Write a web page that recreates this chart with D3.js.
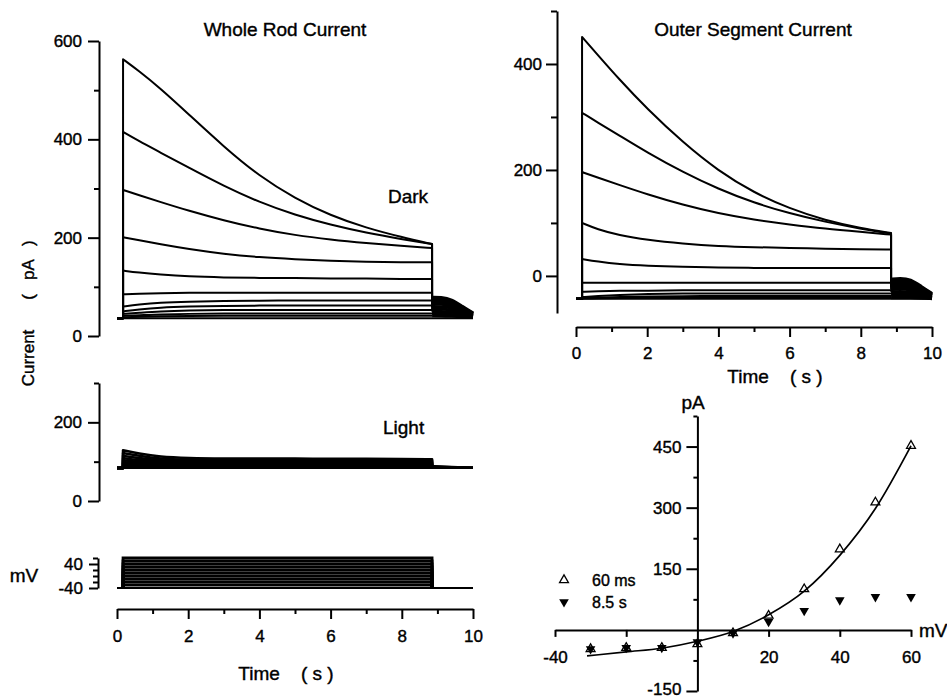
<!DOCTYPE html>
<html>
<head>
<meta charset="utf-8">
<script src="https://cdn.jsdelivr.net/npm/d3@7"></script>
<style>
  body { margin: 0; background: #fff; }
  text { font-family: "Liberation Sans", Arial, sans-serif; fill: #000; stroke: #000; stroke-width: 0.4px; }
  .axis path, .axis line { stroke: #000; stroke-width: 2; }
  .axis text { font-size: 17px; }
</style>
</head>
<body>
<div id="chart"></div>
<script>
// ---- time base of the recorded traces (s) ----
const tOn = 0.17;
const tSample = [0.17, 0.6, 1.2, 2, 3, 4, 5, 6, 7, 8, 8.85];
const tTail = [8.85, 9.1, 9.4, 9.7, 10.0];

// ---- whole rod, dark (pA) ----
const darkBase = 36;
const darkTraces = [
  [563, 540, 505, 452, 385, 325, 280, 245, 220, 201, 187],
  [415, 397, 374, 343, 305, 272, 246, 226, 210, 197, 187],
  [297, 287, 273, 255, 235, 218, 205, 196, 189, 183, 179],
  [201, 195, 187, 177, 167, 160, 156, 153, 151, 150, 150],
  [133, 129, 125, 121, 119, 118, 118, 117, 117, 116, 116],
  [85, 86, 87, 88, 88, 88, 88, 88, 88, 88, 88],
  [60, 64, 68, 70, 71, 72, 72, 72, 72, 72, 72],
  [50, 54, 58, 60, 61, 62, 62, 62, 62, 62, 62],
  [45, 47, 50, 52, 53, 53, 53, 53, 53, 53, 53],
  [41, 42, 44, 45, 46, 46, 46, 46, 46, 46, 46],
  [38, 39, 40, 41, 41, 41, 41, 41, 41, 41, 41]
];
const darkTails = [
  [79, 79, 75, 60, 47],
  [77, 77, 73, 58, 46],
  [75, 75, 71, 57, 46],
  [72, 72, 68, 55, 45],
  [69, 69, 65, 53, 44],
  [65, 65, 62, 51, 43],
  [60, 60, 58, 49, 42],
  [55, 55, 53, 47, 41],
  [50, 50, 49, 45, 40],
  [45, 45, 44, 42, 39],
  [41, 41, 40, 39, 38]
];

// ---- whole rod, light (pA) ----
const lightBase = 84;
const lightTraces = [
  [129, 121, 112, 109, 108, 108, 108, 107, 107, 107, 106],
  [122, 115, 107, 105, 104, 104, 104, 104, 103, 103, 103],
  [115, 109, 103, 101, 100, 100, 100, 100, 100, 99, 99],
  [109, 104, 99, 97, 97, 97, 97, 97, 97, 96, 96],
  [104, 99, 96, 94, 94, 94, 94, 94, 94, 93, 93],
  [99, 95, 93, 92, 91, 91, 91, 91, 91, 91, 91],
  [95, 92, 90, 89, 89, 89, 89, 89, 89, 89, 89],
  [91, 89, 88, 87, 87, 87, 87, 87, 87, 87, 87],
  [88, 87, 86, 86, 86, 86, 86, 86, 86, 86, 86],
  [86, 85, 85, 85, 85, 85, 85, 85, 85, 85, 85]
];
const lightTails = [
  [89, 88, 87, 86, 84],
  [88, 87, 86, 85, 84],
  [87, 86, 86, 85, 84],
  [86, 86, 85, 85, 84],
  [86, 85, 85, 84, 84],
  [85, 85, 84, 84, 84],
  [85, 84, 84, 84, 84],
  [84, 84, 84, 84, 84],
  [84, 84, 84, 84, 84],
  [84, 84, 84, 84, 84]
];

// ---- voltage steps (mV) ----
const holdV = -40;
const stepLevels = [-30, -20, -10, 0, 10, 20, 30, 40, 50, 60];

// ---- outer segment current (pA) ----
const outerBase = -43;
const outerTraces = [
  [451, 418, 372, 315, 252, 198, 157, 127, 105, 90, 81],
  [308, 290, 266, 233, 196, 164, 138, 118, 102, 89, 80],
  [196, 186, 172, 154, 134, 118, 106, 97, 89, 83, 78],
  [100, 88, 77, 68, 61, 56, 54, 53, 51, 50, 50],
  [32, 27, 22, 19, 17, 16, 15, 15, 15, 15, 15],
  [-13, -13, -13, -13, -13, -13, -13, -13, -13, -13, -13],
  [-30, -29, -28, -28, -27, -27, -27, -27, -27, -27, -27],
  [-40, -38, -36, -34, -33, -33, -33, -33, -33, -33, -33],
  [-42, -41, -40, -39, -38, -38, -38, -38, -38, -38, -38],
  [-43, -42, -42, -41, -41, -41, -41, -41, -41, -41, -41]
];
const outerTails = [
  [-6, -4, -6, -20, -33],
  [-10, -8, -10, -22, -34],
  [-14, -12, -14, -24, -35],
  [-18, -16, -18, -26, -36],
  [-22, -20, -22, -28, -37],
  [-26, -24, -26, -31, -38],
  [-30, -29, -30, -34, -40],
  [-34, -33, -34, -37, -41],
  [-38, -37, -38, -39, -42],
  [-41, -41, -41, -42, -43]
];

// ---- I-V relation ----
const ivVolts = [-30, -20, -10, 0, 10, 20, 30, 40, 50, 60];
const iv60ms = [-47, -44, -44, -35, -8, 35, 100, 198, 313, 452];
const iv85s = [-47, -44, -44, -30, -8, 20, 47, 73, 81, 81];
const fitVolts = [-31, -20, -10, 0, 10, 20, 30, 40, 50, 60];
const fitCurrent = [-64, -54, -45, -28, -4, 37, 95, 183, 298, 452];

const width = 947, height = 698;

const svg = d3.select("#chart").append("svg")
  .attr("width", width)
  .attr("height", height);

// scales
const xLeft = d3.scaleLinear().domain([0, 10]).range([117, 473]);
const yDark = d3.scaleLinear().domain([0, 600]).range([336, 41]);
const yLight = d3.scaleLinear().domain([0, 300]).range([501, 383]);
const yVolt = d3.scaleLinear().domain([-40, 60]).range([588, 558]);
const xRight = d3.scaleLinear().domain([0, 10]).range([576, 932]);
const yOuter = d3.scaleLinear().domain([-70, 500]).range([313, 11]);
const xIV = d3.scaleLinear().domain([-40, 60]).range([555, 911]);
const yIV = d3.scaleLinear().domain([-150, 525]).range([691, 416]);

// one recorded sweep: baseline, step on, relaxation, step off, tail
function drawSweep(g, x, y, base, vals, tail, sw, tailSw) {
  const smooth = d3.line().x(d => x(d[0])).y(d => y(d[1])).curve(d3.curveBasis);
  const straight = d3.line().x(d => x(d[0])).y(d => y(d[1]));
  const body = tSample.map((t, i) => [t, vals[i]]);
  const tl = tTail.map((t, i) => [t, tail[i]]);
  const path = straight([[0, base], [tOn, base], [tOn, vals[0]]]) +
    smooth(body).replace(/^M/, "L") +
    straight([[8.85, vals[vals.length - 1]], [8.85, tail[0]]]).replace(/^M/, "L");
  g.append("path")
    .attr("d", path)
    .attr("fill", "none")
    .attr("stroke", "#000")
    .attr("stroke-width", sw)
    .attr("stroke-linejoin", "round");
  g.append("path")
    .attr("d", smooth(tl))
    .attr("fill", "none")
    .attr("stroke", "#000")
    .attr("stroke-width", tailSw);
}

function drawBaseline(g, x, y, base, sw) {
  g.append("path")
    .attr("d", d3.line().x(d => x(d[0])).y(d => y(d[1]))([[0, base], [10, base]]))
    .attr("fill", "none").attr("stroke", "#000").attr("stroke-width", sw);
}

function yAxis(x, scale, major, minor, labeled, majorLen, minorLen, pad) {
  const g = svg.append("g").attr("class", "axis").attr("transform", `translate(${x},0)`);
  g.append("g")
    .call(d3.axisLeft(scale).tickValues(minor).tickSize(minorLen).tickFormat(""))
    .call(s => s.select(".domain").remove());
  g.append("g")
    .call(d3.axisLeft(scale).tickValues(major).tickSize(majorLen).tickSizeOuter(0)
      .tickPadding(pad).tickFormat(d => labeled.includes(d) ? d : ""));
  return g;
}

function timeAxis(y, scale, pad) {
  const g = svg.append("g").attr("class", "axis").attr("transform", `translate(0,${y})`);
  g.append("g")
    .call(d3.axisBottom(scale).tickValues([1, 3, 5, 7, 9]).tickSize(5).tickFormat(""))
    .call(s => s.select(".domain").remove());
  g.append("g")
    .call(d3.axisBottom(scale).tickValues([0, 2, 4, 6, 8, 10]).tickSize(10)
      .tickSizeOuter(0).tickPadding(pad));
  return g;
}

function label(x, y, txt, size, anchor, rotate) {
  const t = svg.append("text")
    .attr("x", x).attr("y", y)
    .attr("font-size", size)
    .attr("text-anchor", anchor || "start")
    .attr("dominant-baseline", "central")
    .style("white-space", "pre")
    .text(txt);
  if (rotate) t.attr("transform", `rotate(${rotate},${x},${y})`);
  return t;
}

// ---------- whole rod, dark ----------
const gDark = svg.append("g");
drawBaseline(gDark, xLeft, yDark, darkBase, 2);
darkTraces.forEach((tr, i) => drawSweep(gDark, xLeft, yDark, darkBase, tr, darkTails[i], 2, 3));
yAxis(99, yDark, [0, 200, 400, 600], [100, 300, 500], [0, 200, 400, 600], 11, 5, 6);

// ---------- whole rod, light ----------
const gLight = svg.append("g");
drawBaseline(gLight, xLeft, yLight, lightBase, 2.2);
lightTraces.forEach((tr, i) => drawSweep(gLight, xLeft, yLight, lightBase, tr, lightTails[i], 2.6, 2.2));
yAxis(99, yLight, [0, 200], [100, 300], [0, 200], 11, 5, 6);

// ---------- voltage protocol ----------
const gVolt = svg.append("g");
drawBaseline(gVolt, xLeft, yVolt, holdV, 1.8);
const vLine = d3.line().x(d => xLeft(d[0])).y(d => yVolt(d[1]));
stepLevels.forEach(v => {
  gVolt.append("path")
    .attr("d", vLine([[tOn, holdV], [tOn, v], [8.85, v], [8.85, holdV]]))
    .attr("fill", "none").attr("stroke", "#000").attr("stroke-width", 2.8);
});
yAxis(98, yVolt, [-40, 40], [-20, 0, 20, 60], [-40, 40], 9, 5, 6);

timeAxis(609, xLeft, 11);

// ---------- outer segment ----------
const gOuter = svg.append("g");
drawBaseline(gOuter, xRight, yOuter, outerBase, 2.2);
outerTraces.forEach((tr, i) => drawSweep(gOuter, xRight, yOuter, outerBase, tr, outerTails[i], 2, 3));
yAxis(557, yOuter, [0, 200, 400], [100, 300, 500], [0, 200, 400], 11, 6, 4);
timeAxis(327, xRight, 10);

// ---------- I-V plot ----------
const gIV = svg.append("g");
const xIVAxis = svg.append("g").attr("class", "axis").attr("transform", `translate(0,${yIV(0)})`);
xIVAxis.call(d3.axisBottom(xIV).tickValues([-40, -20, 20, 40, 60]).tickSize(7)
  .tickSizeOuter(0).tickPadding(14).tickFormat(d => d === -20 ? "" : d));
const yIVAxis = yAxis(xIV(0), yIV, [-150, 150, 300, 450], [-75, 75, 225, 375, 525], [-150, 150, 300, 450], 11, 4, 5);
yIVAxis.selectAll("text").filter(d => d === -150).attr("dy", "0.2em");

gIV.append("path")
  .attr("d", d3.line().x(d => xIV(d)).y((d, i) => yIV(fitCurrent[i])).curve(d3.curveMonotoneX)(fitVolts))
  .attr("fill", "none").attr("stroke", "#000").attr("stroke-width", 1.7);

const triUp = d3.symbol().type(d3.symbolTriangle).size(34);
const triDown = d3.symbol().type(d3.symbolTriangle).size(40);

gIV.selectAll(".late").data(ivVolts).join("path")
  .attr("transform", (d, i) => `translate(${xIV(d)},${yIV(iv85s[i])}) rotate(180)`)
  .attr("d", triDown()).attr("fill", "#000");
gIV.selectAll(".peak").data(ivVolts).join("path")
  .attr("transform", (d, i) => `translate(${xIV(d)},${yIV(iv60ms[i])})`)
  .attr("d", triUp()).attr("fill", "none").attr("stroke", "#000").attr("stroke-width", 1.3);

// legend
svg.append("path").attr("transform", "translate(564,580)").attr("d", triUp())
  .attr("fill", "none").attr("stroke", "#000").attr("stroke-width", 1.3);
svg.append("path").attr("transform", "translate(564,602) rotate(180)").attr("d", triDown())
  .attr("fill", "#000");
label(592, 580, "60 ms", 16);
label(592, 602, "8.5 s", 16);

// ---------- texts ----------
label(285, 29, "Whole Rod Current", 19, "middle");
label(753, 29, "Outer Segment Current", 19, "middle");
label(388, 196, "Dark", 19);
label(383, 427, "Light", 19);
label(28, 358, "Current", 17, "middle", -90);
label(28, 270, "(   pA   )", 17, "middle", -90);
label(24, 575, "mV", 19, "middle");
label(286, 673, "Time    ( s )", 19, "middle");
label(775, 376, "Time    ( s )", 19, "middle");
label(693, 402, "pA", 19, "middle");
label(919, 630, "mV", 19);
</script>
</body>
</html>
